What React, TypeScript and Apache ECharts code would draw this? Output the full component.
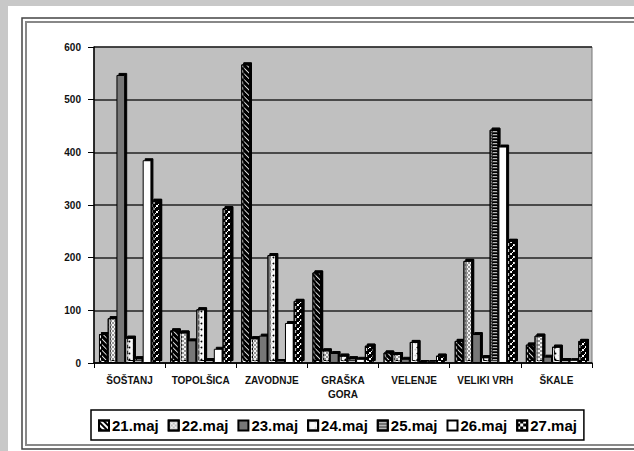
import React, { useEffect, useRef } from "react";
import * as echarts from "echarts";

const categories = ["ŠOŠTANJ", "TOPOLŠICA", "ZAVODNJE", "GRAŠKA\nGORA", "VELENJE", "VELIKI VRH", "ŠKALE"];
const seriesNames = ["21.maj", "22.maj", "23.maj", "24.maj", "25.maj", "26.maj", "27.maj"];
const maj21 = [55, 62, 567, 172, 20, 42, 35];
const maj22 = [85, 58, 47, 24, 17, 194, 52];
const maj23 = [547, 43, 52, 19, 8, 55, 12];
const maj24 = [48, 102, 205, 14, 40, 11, 31];
const maj25 = [9, 6, 5, 9, 4, 443, 6];
const maj26 = [385, 27, 76, 8, 4, 411, 6];
const maj27 = [308, 294, 118, 33, 14, 232, 42];
const yTicks = [0, 100, 200, 300, 400, 500, 600];

const seriesData = [maj21, maj22, maj23, maj24, maj25, maj26, maj27];

const styles: any[] = [
  { color: "#ffffff", decal: { symbol: "rect", color: "#000", dashArrayX: [[1, 0]], dashArrayY: [2, 2], rotation: Math.PI / 4 } },
  { color: "#f2f2f2", decal: { symbol: "rect", color: "#9a9a9a", symbolSize: 0.8, dashArrayX: [[2, 2], [0, 2, 2, 0]], dashArrayY: [2, 0] } },
  { color: "#777777" },
  { color: "#f7f7f7", decal: { symbol: "circle", color: "#c8c8c8", symbolSize: 0.6, dashArrayX: [3, 3], dashArrayY: [3, 3] } },
  { color: "#b8b8b8", decal: { symbol: "rect", color: "#333", dashArrayX: [[1, 0]], dashArrayY: [1, 2] } },
  { color: "#ffffff" },
  { color: "#ffffff", decal: { symbol: "rect", color: "#000", symbolSize: 1, dashArrayX: [[3, 3], [0, 3, 3, 0]], dashArrayY: [3, 0] } },
];

export default function App() {
  const ref = useRef<HTMLDivElement>(null);
  useEffect(() => {
    if (!ref.current) return;
    const chart = echarts.init(ref.current, null, { renderer: "svg" });
    const font = "'Liberation Sans', Arial, sans-serif";
    chart.setOption({
      animation: false,
      backgroundColor: "#c8c8c8",
      graphic: [
        { type: "rect", z: -10, shape: { x: 8, y: 6, width: 640, height: 460 }, style: { fill: "#ffffff" } },
        { type: "rect", z: -9, shape: { x: 22, y: 18, width: 620, height: 431 }, style: { fill: "none", stroke: "#444", lineWidth: 1.5 } },
        { type: "rect", z: -9, shape: { x: 26, y: 22, width: 612, height: 423 }, style: { fill: "none", stroke: "#888", lineWidth: 2 } },
      ],
      grid: {
        left: 94,
        top: 47,
        width: 498,
        height: 316,
        show: true,
        backgroundColor: "#c0c0c0",
        borderColor: "#777",
        borderWidth: 1,
      },
      legend: {
        left: 91,
        top: 410,
        data: seriesNames,
        icon: "rect",
        itemWidth: 10,
        itemHeight: 10,
        itemGap: 9,
        padding: [8, 7, 7, 7],
        borderColor: "#000",
        borderWidth: 1.5,
        backgroundColor: "#fff",
        textStyle: { fontFamily: font, fontWeight: "bold", fontSize: 15, color: "#000", padding: [0, 0, 0, -2] },
      },
      xAxis: {
        type: "category",
        data: categories,
        axisLine: { lineStyle: { color: "#000", width: 1.5 } },
        axisTick: { show: true, length: 5, lineStyle: { color: "#000" } },
        axisLabel: { fontFamily: font, fontWeight: "bold", fontSize: 10, color: "#111", margin: 10, lineHeight: 14, interval: 0 },
      },
      yAxis: {
        type: "value",
        min: yTicks[0],
        max: yTicks[yTicks.length - 1],
        interval: 100,
        axisLine: { show: true, lineStyle: { color: "#000", width: 1.5 } },
        axisTick: { show: true, length: 6, lineStyle: { color: "#000" } },
        axisLabel: { fontFamily: font, fontWeight: "bold", fontSize: 10, color: "#111", margin: 13 },
        splitLine: { lineStyle: { color: "#222", width: 1.5 } },
      },
      series: seriesNames.map((name, i) => ({
        name,
        type: "bar",
        data: seriesData[i],
        barGap: "0%",
        barCategoryGap: "14%",
        itemStyle: {
          ...styles[i],
          borderColor: "#000",
          borderWidth: 1,
          shadowColor: "#000",
          shadowBlur: 0,
          shadowOffsetX: 2,
          shadowOffsetY: -2,
        },
      })),
    });
    return () => chart.dispose();
  }, []);
  return <div ref={ref} style={{ position: "fixed", left: 0, top: 0, width: 634, height: 451 }} />;
}
